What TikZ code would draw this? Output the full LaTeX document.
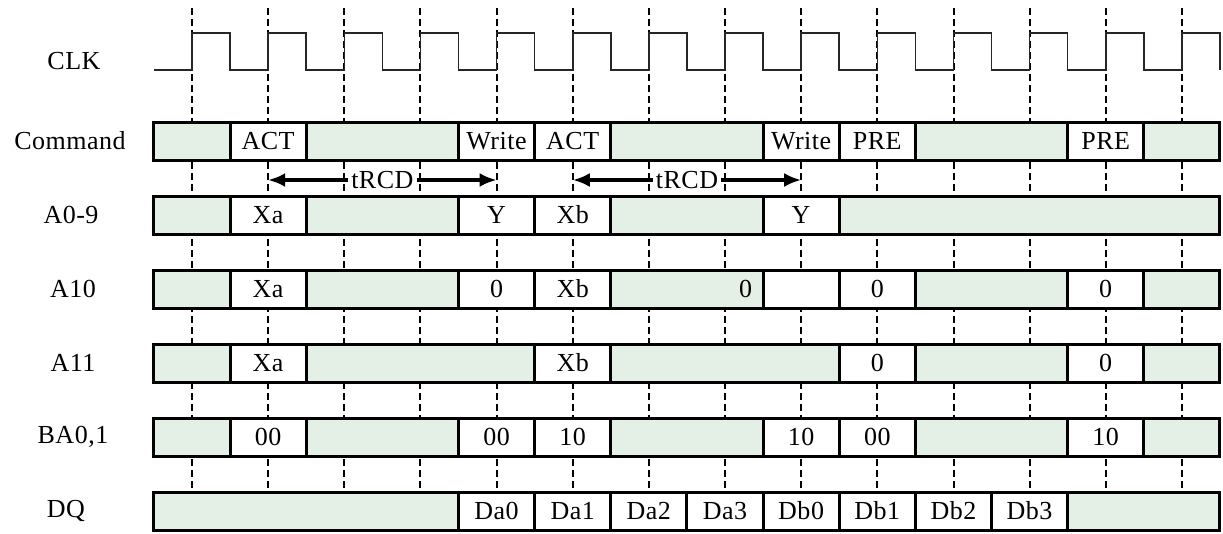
\documentclass[tikz,border=0pt]{standalone}
\usepackage{fontspec}
\setmainfont{Liberation Serif}[LetterSpace=2]
\usepackage{tikz}
\usetikzlibrary{arrows.meta,calc,positioning}
\definecolor{idlegreen}{RGB}{228,239,229}
\newcommand{\clkper}{76.15}

\begin{document}
\begin{tikzpicture}[
    x=1pt, y=-1pt,
    font=\fontsize{26}{30}\selectfont,
    nosep/.style={inner sep=0, outer sep=0},
    cell/.style={nosep, draw, line width=3pt, minimum height=38pt, anchor=west},
    rowname/.style={inner sep=0},
    tick/.style={line width=2pt, dash pattern=on 7pt off 4pt},
    clkline/.style={line width=1.6pt, black!85},
    trcdarrow/.style={line width=4pt, -{Latex[length=17pt,width=14pt]}}]

\useasboundingbox (0,0) rectangle (1223,533);

\foreach \k in {0,...,13}
    \coordinate (E\k) at ({192+\k*\clkper},8);
\foreach \k in {0,...,13}
    \path[draw, tick] (E\k) -- ++(0,484);

\path[draw, clkline] (154,70) \foreach \k in {0,...,13} {
    -- ({192+\k*\clkper},70) -- ({192+\k*\clkper},33)
    -- ({230+\k*\clkper},33) -- ({230+\k*\clkper},70)};

\node[rowname] (CLK-L) at (74,61) {CLK};
\node[rowname] (CMD-L) at (70,141) {Command};
\node[rowname] (ADR-L) at (71,215) {A0-9};
\node[rowname] (A10-L) at (73,289) {A10};
\node[rowname] (A11-L) at (73,363) {A11};
\node[rowname] (BA-L) at (73,437) {BA0,1};
\node[rowname] (DQ-L) at (66,511) {DQ};

\foreach \a/\b/\f/\t [count=\i] in {-1/0/idlegreen/{}, 0/1/white/ACT, 1/3/idlegreen/{}, 3/4/white/Write, 4/5/white/ACT, 5/7/idlegreen/{}, 7/8/white/Write, 8/9/white/PRE, 9/11/idlegreen/{}, 11/12/white/PRE, 12/13/idlegreen/{}}
    \node[cell, fill=\f, minimum width={(\b-\a)*\clkper}] (CMD-\i) at ({230+\a*\clkper},141) {\t};

\foreach \a/\b/\f/\t [count=\i] in {-1/0/idlegreen/{}, 0/1/white/Xa, 1/3/idlegreen/{}, 3/4/white/Y, 4/5/white/Xb, 5/7/idlegreen/{}, 7/8/white/Y, 8/13/idlegreen/{}}
    \node[cell, fill=\f, minimum width={(\b-\a)*\clkper}] (ADR-\i) at ({230+\a*\clkper},215) {\t};

\foreach \a/\b/\f/\t [count=\i] in {-1/0/idlegreen/{}, 0/1/white/Xa, 1/3/idlegreen/{}, 3/4/white/0, 4/5/white/Xb, 5/7/idlegreen/{}, 7/8/white/{}, 8/9/white/0, 9/11/idlegreen/{}, 11/12/white/0, 12/13/idlegreen/{}}
    \node[cell, fill=\f, minimum width={(\b-\a)*\clkper}] (A10-\i) at ({230+\a*\clkper},289) {\t};
\node[nosep, anchor=east] (A10-Z) at ([xshift=-11pt]A10-6.east) {0};

\foreach \a/\b/\f/\t [count=\i] in {-1/0/idlegreen/{}, 0/1/white/Xa, 1/4/idlegreen/{}, 4/5/white/Xb, 5/8/idlegreen/{}, 8/9/white/0, 9/11/idlegreen/{}, 11/12/white/0, 12/13/idlegreen/{}}
    \node[cell, fill=\f, minimum width={(\b-\a)*\clkper}] (A11-\i) at ({230+\a*\clkper},363) {\t};

\foreach \a/\b/\f/\t [count=\i] in {-1/0/idlegreen/{}, 0/1/white/00, 1/3/idlegreen/{}, 3/4/white/00, 4/5/white/10, 5/7/idlegreen/{}, 7/8/white/10, 8/9/white/00, 9/11/idlegreen/{}, 11/12/white/10, 12/13/idlegreen/{}}
    \node[cell, fill=\f, minimum width={(\b-\a)*\clkper}] (BA-\i) at ({230+\a*\clkper},437) {\t};

\foreach \a/\b/\f/\t [count=\i] in {-1/3/idlegreen/{}, 3/4/white/Da0, 4/5/white/Da1, 5/6/white/Da2, 6/7/white/Da3, 7/8/white/Db0, 8/9/white/Db1, 9/10/white/Db2, 10/11/white/Db3, 11/13/idlegreen/{}}
    \node[cell, fill=\f, minimum width={(\b-\a)*\clkper}] (DQ-\i) at ({230+\a*\clkper},511) {\t};

\node[inner sep=3pt] (TRCD-1) at ({192+2.5*\clkper},180) {tRCD};
\node[inner sep=3pt] (TRCD-2) at ({192+6.5*\clkper},180) {tRCD};
\draw[trcdarrow] (TRCD-1.west) -- (E1 |- TRCD-1);
\draw[trcdarrow] (TRCD-1.east) -- (E4 |- TRCD-1);
\draw[trcdarrow] (TRCD-2.west) -- (E5 |- TRCD-2);
\draw[trcdarrow] (TRCD-2.east) -- (E8 |- TRCD-2);

\end{tikzpicture}
\end{document}
